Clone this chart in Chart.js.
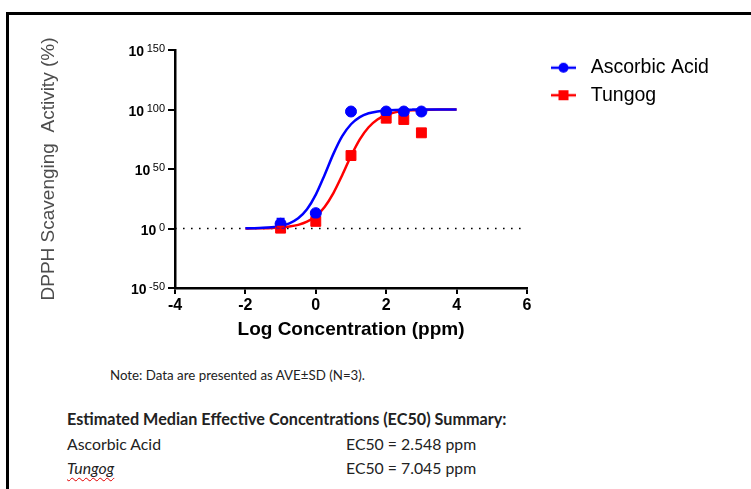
<!DOCTYPE html>
<html>
<head>
<meta charset="utf-8">
<script src="https://cdn.jsdelivr.net/npm/chart.js@4.4.1/dist/chart.umd.min.js"></script>
<style>
  html, body { margin: 0; padding: 0; background: #fff; width: 751px; height: 489px; overflow: hidden; }
  .frame { position: absolute; left: 6px; top: 12px; width: 800px; height: 600px; border-top: 3px solid #000; border-left: 3px solid #000; }
  #chart { position: absolute; left: 0; top: 0; }
  .txt { position: absolute; font-family: Lato, "Open Sans", sans-serif; color: #222; white-space: nowrap; }
  .note { left: 110px; top: 367px; font-size: 13.3px; line-height: 16px; }
  .head { left: 67px; top: 410px; font-size: 16.2px; line-height: 18px; font-weight: bold; }
  .row { font-size: 15.8px; line-height: 18px; }
  .wavy { font-style: italic; text-decoration: underline wavy #e00000; text-decoration-thickness: 1px; text-underline-offset: 3px; }
</style>
</head>
<body>
<div class="frame"></div>
<canvas id="chart" width="751" height="350"></canvas>
<div class="txt note">Note: Data are presented as AVE±SD (N=3).</div>
<div class="txt head">Estimated Median Effective Concentrations (EC50) Summary:</div>
<div class="txt row" style="left:67px; top:435px;">Ascorbic Acid</div>
<div class="txt row" style="left:346px; top:435px;">EC50 = 2.548 ppm</div>
<div class="txt row wavy" style="left:67px; top:459px;">Tungog</div>
<div class="txt row" style="left:346px; top:459px;">EC50 = 7.045 ppm</div>
<script>
// measured points (log ppm, % scavenging)
const doseLog = [-1, 0, 1, 2, 2.5, 3];
const ascorbicMean = [4.0, 12.9, 98.3, 98.3, 98.3, 98.3];
const ascorbicSD = [4.1, 1.8, 1.0, 0.6, 0.5, 0.6];
const tungogMean = [0.3, 6.0, 61.3, 92.7, 91.6, 80.4];
const tungogSD = [1.2, 1.5, 2.0, 1.0, 1.4, 1.1];

// fitted curves
const fitLog = [-2, -1.75, -1.5, -1.25, -1, -0.75, -0.5, -0.25, 0, 0.25, 0.5, 0.75, 1,
    1.25, 1.5, 1.75, 2, 2.25, 2.5, 2.75, 3, 3.25, 3.5, 3.75, 4];
const ascorbicFit = [0.13, 0.26, 0.53, 1.08, 2.19, 4.39, 8.6, 16.2, 28.5, 45.0, 62.7, 77.6, 87.6,
    93.6, 96.8, 98.4, 99.2, 99.6, 99.8, 99.9, 99.95, 99.98, 99.99, 100, 100];
const tungogFit = [0.06, 0.12, 0.23, 0.44, 0.85, 1.62, 3.05, 5.7, 10.3, 18.1, 29.8, 44.8, 60.9,
    74.9, 85.1, 91.6, 95.4, 97.6, 98.7, 99.3, 99.6, 99.8, 99.9, 99.95, 99.97];

const xTicks = [-4, -2, 0, 2, 4, 6];
const yTickExponents = [-50, 0, 50, 100, 150];

const BLUE = '#0000ff';
const RED = '#ff0000';
const FONT = '"Liberation Sans", Arial, sans-serif';

Chart.defaults.font.family = FONT;

function toPoints(xs, ys) {
    return xs.map((x, i) => ({x: x, y: ys[i]}));
}

function legendIcon(color, shape) {
    const c = document.createElement('canvas');
    c.width = 30;
    c.height = 14;
    const g = c.getContext('2d');
    g.strokeStyle = color;
    g.fillStyle = color;
    g.lineWidth = 2.5;
    g.beginPath();
    g.moveTo(0, 7);
    g.lineTo(25, 7);
    g.stroke();
    if (shape === 'circle') {
        g.beginPath();
        g.arc(12.5, 7, 5, 0, Math.PI * 2);
        g.fill();
    } else {
        g.fillRect(7.5, 2, 10, 10);
    }
    return c;
}

const icons = [legendIcon(BLUE, 'circle'), legendIcon(RED, 'rect')];

const extras = {
    id: 'extras',
    beforeUpdate(chart) {
        const lg = chart.legend;
        if (lg && !lg._fixedFit) {
            const fit = lg.fit.bind(lg);
            lg.fit = function () {
                fit();
                this.width = 224;
            };
            lg._fixedFit = true;
        }
    },
    afterLayout(chart) {
        const lg = chart.legend;
        const w = lg.width, h = lg.height;
        lg.left = 543;
        lg.right = 543 + w;
        lg.top = 50;
        lg.bottom = 50 + h;
    },
    afterDatasetsDraw(chart) {
        const ctx = chart.ctx, xs = chart.scales.x, ys = chart.scales.y;
        const sets = [[ascorbicMean, ascorbicSD, BLUE], [tungogMean, tungogSD, RED]];
        ctx.save();
        ctx.lineWidth = 2;
        sets.forEach(([mean, sd, color]) => {
            ctx.strokeStyle = color;
            doseLog.forEach((d, i) => {
                const px = xs.getPixelForValue(d);
                const top = ys.getPixelForValue(mean[i] + sd[i]);
                const bot = ys.getPixelForValue(mean[i] - sd[i]);
                ctx.beginPath();
                ctx.moveTo(px, top);
                ctx.lineTo(px, bot);
                ctx.moveTo(px - 4, top);
                ctx.lineTo(px + 4, top);
                ctx.moveTo(px - 4, bot);
                ctx.lineTo(px + 4, bot);
                ctx.stroke();
            });
        });
        ctx.restore();
    },
    afterDraw(chart) {
        const ctx = chart.ctx, ys = chart.scales.y;
        const right = chart.chartArea.left - 10;
        ctx.save();
        ctx.fillStyle = '#000';
        ctx.textAlign = 'right';
        ctx.textBaseline = 'alphabetic';
        yTickExponents.forEach(e => {
            const py = ys.getPixelForValue(e);
            const exp = String(e);
            ctx.font = '11px ' + FONT;
            ctx.fillText(exp, right, py + 2);
            const w = ctx.measureText(exp).width;
            ctx.font = 'bold 14px ' + FONT;
            ctx.fillText('10', right - w - 2.5, py + 6);
        });
        ctx.restore();
    }
};

new Chart(document.getElementById('chart'), {
    type: 'scatter',
    data: {
        datasets: [
            {
                label: 'Ascorbic Acid',
                data: toPoints(doseLog, ascorbicMean),
                pointStyle: 'circle',
                pointRadius: 5.5,
                backgroundColor: BLUE,
                borderColor: BLUE,
                showLine: false
            },
            {
                label: 'Tungog',
                data: toPoints(doseLog, tungogMean),
                pointStyle: 'rect',
                pointRadius: 7,
                backgroundColor: RED,
                borderColor: RED,
                showLine: false
            },
            {
                label: 'Ascorbic Acid fit',
                data: toPoints(fitLog, ascorbicFit),
                showLine: true,
                pointRadius: 0,
                borderColor: BLUE,
                borderWidth: 2.5,
                cubicInterpolationMode: 'monotone'
            },
            {
                label: 'Tungog fit',
                data: toPoints(fitLog, tungogFit),
                showLine: true,
                pointRadius: 0,
                borderColor: RED,
                borderWidth: 2.5,
                cubicInterpolationMode: 'monotone'
            },
            {
                label: 'baseline',
                data: toPoints([xTicks[0], xTicks[xTicks.length - 1]], [0, 0]),
                showLine: true,
                pointRadius: 0,
                borderColor: '#000',
                borderWidth: 1.6,
                borderDash: [1.6, 6.4]
            }
        ]
    },
    options: {
        responsive: false,
        animation: false,
        layout: {padding: {top: 50, left: 0, right: 0, bottom: 0}},
        scales: {
            x: {
                type: 'linear',
                min: xTicks[0],
                max: xTicks[xTicks.length - 1],
                ticks: {
                    stepSize: 2,
                    color: '#000',
                    font: {size: 16, weight: 'bold'},
                    padding: 2,
                    maxRotation: 0,
                    autoSkip: false
                },
                grid: {drawOnChartArea: false, drawTicks: true, tickLength: 6, color: '#000', lineWidth: 2},
                border: {display: true, color: '#000', width: 2.5},
                title: {
                    display: true,
                    text: 'Log Concentration (ppm)',
                    color: '#000',
                    font: {size: 19, weight: 'bold'},
                    padding: {top: 0, bottom: 9}
                },
                afterFit(s) {
                    s.height = 62;
                    s.paddingLeft = 0;
                    s.paddingRight = 0;
                }
            },
            y: {
                type: 'linear',
                min: yTickExponents[0],
                max: yTickExponents[yTickExponents.length - 1],
                ticks: {stepSize: 50, callback: () => '', autoSkip: false, padding: 0},
                grid: {drawOnChartArea: false, drawTicks: true, tickLength: 7, color: '#000', lineWidth: 2},
                border: {display: true, color: '#000', width: 2.5},
                title: {
                    display: true,
                    text: 'DPPH Scavenging  Activity (%)',
                    color: '#4d4d4d',
                    font: {size: 19},
                    padding: {top: 37, bottom: 0}
                },
                afterFit(s) {
                    s.width = 175;
                    s.paddingTop = 0;
                    s.paddingBottom = 0;
                }
            }
        },
        plugins: {
            tooltip: {enabled: false},
            legend: {
                position: 'right',
                align: 'start',
                labels: {
                    usePointStyle: true,
                    pointStyleWidth: 30,
                    padding: 8,
                    color: '#1a1a1a',
                    font: {size: 19.5},
                    generateLabels: chart => [0, 1].map(i => ({
                        text: chart.data.datasets[i].label,
                        pointStyle: icons[i],
                        fillStyle: 'transparent',
                        strokeStyle: 'transparent',
                        lineWidth: 0,
                        hidden: false,
                        datasetIndex: i
                    }))
                }
            }
        }
    },
    plugins: [extras]
});
</script>
</body>
</html>
